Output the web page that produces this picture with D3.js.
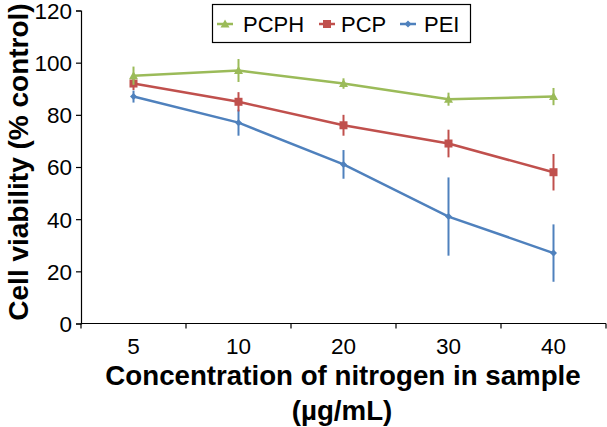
<!DOCTYPE html>
<html><head><meta charset="utf-8">
<script src="https://cdn.jsdelivr.net/npm/d3@7"></script>
<style>body{margin:0;background:#fff}svg{display:block;font-family:"Liberation Sans",Arial,sans-serif}</style>
</head><body><svg id="c" width="607" height="427"></svg>
<script>
const categories = ["5","10","20","30","40"];
const yTicks = [0,20,40,60,80,100,120];
const seriesNames = ["PCPH","PCP","PEI"];
const pcphValues = [95,97,92,86,87];
const pcphErrors = [3.5,4.4,2,2.5,3.3];
const pcpValues = [92,85,76,69,58];
const pcpErrors = [2.5,3.7,4,5.3,7];
const peiValues = [87,77,61,41,27];
const peiErrors = [2.3,5,5.5,15,11];
const colors = ["#9BBB59","#C0504D","#4F81BD"];
const markers = ["triangle","square","diamond"];

const series = [
  {name:seriesNames[0], values:pcphValues, errors:pcphErrors, color:colors[0], marker:markers[0]},
  {name:seriesNames[1], values:pcpValues, errors:pcpErrors, color:colors[1], marker:markers[1]},
  {name:seriesNames[2], values:peiValues, errors:peiErrors, color:colors[2], marker:markers[2]}
];

const svg = d3.select("#c");
const x = d3.scaleBand().domain(categories).range([81,606]).padding(0);
const y = d3.scaleLinear().domain([0,120]).range([323.5,10.5]);

// Y axis
const yAxis = svg.append("g").attr("transform","translate(81,0)")
  .call(d3.axisLeft(y).tickValues(yTicks).tickSize(5).tickPadding(4));
yAxis.select(".domain").attr("stroke","#000").attr("stroke-width",1.2);
yAxis.selectAll(".tick line").attr("stroke","#000").attr("stroke-width",1.2);
yAxis.selectAll(".tick text").attr("font-size",22.5).attr("fill","#000")
  .attr("font-family","Liberation Sans, Arial, sans-serif").attr("dy","0.35em");

// X axis line and boundary ticks
const xg = svg.append("g");
xg.append("line").attr("x1",x.range()[0]).attr("x2",x.range()[1]).attr("y1",y(0)).attr("y2",y(0))
  .attr("stroke","#000").attr("stroke-width",1.2);
const bounds = categories.map(c=>x(c)).concat([x(categories[categories.length-1])+x.bandwidth()]);
xg.selectAll("line.tk").data(bounds).enter().append("line").attr("class","tk")
  .attr("x1",d=>d).attr("x2",d=>d).attr("y1",y(0)).attr("y2",y(0)+5)
  .attr("stroke","#000").attr("stroke-width",1.2);
xg.selectAll("text").data(categories).enter().append("text")
  .attr("x",d=>x(d)+x.bandwidth()/2).attr("y",354).attr("text-anchor","middle")
  .attr("font-size",22.5).text(d=>d);

// Titles
svg.append("text").attr("transform","translate(28,162) rotate(-90)")
  .attr("text-anchor","middle").attr("font-size",28).attr("font-weight","bold")
  .text("Cell viability (% control)");
svg.append("text").attr("x",343).attr("y",385).attr("text-anchor","middle")
  .attr("font-size",27.7).attr("font-weight","bold").text("Concentration of nitrogen in sample");
svg.append("text").attr("x",342).attr("y",420).attr("text-anchor","middle")
  .attr("font-size",27.7).attr("font-weight","bold").text("(µg/mL)");

function drawMarker(g, type, cx, cy, color){
  if(type==="square"){
    g.append("rect").attr("x",cx-4).attr("y",cy-4).attr("width",8).attr("height",8).attr("fill",color);
  } else if(type==="diamond"){
    g.append("path").attr("d",`M${cx},${cy-3.5}L${cx+3.5},${cy}L${cx},${cy+3.5}L${cx-3.5},${cy}Z`).attr("fill",color);
  } else {
    g.append("path").attr("d",`M${cx},${cy-4.5}L${cx+4.5},${cy+3.5}L${cx-4.5},${cy+3.5}Z`).attr("fill",color);
  }
}

const cx = d => x(d)+x.bandwidth()/2;
const line = d3.line().x((d,i)=>cx(categories[i])).y(d=>y(d));

series.slice().reverse().forEach(s=>{
  const g = svg.append("g");
  g.append("path").datum(s.values).attr("d",line).attr("fill","none")
    .attr("stroke",s.color).attr("stroke-width",2.5);
  s.values.forEach((v,i)=>{
    g.append("line").attr("x1",cx(categories[i])).attr("x2",cx(categories[i]))
      .attr("y1",y(v+s.errors[i])).attr("y2",y(v-s.errors[i]))
      .attr("stroke",s.color).attr("stroke-width",2);
    drawMarker(g,s.marker,cx(categories[i]),y(v),s.color);
  });
});

// Legend
const lg = svg.append("g");
lg.append("rect").attr("x",212.5).attr("y",4.5).attr("width",258).attr("height",38)
  .attr("fill","#fff").attr("stroke","#000").attr("stroke-width",1.2);
const legX = [225,327,408];
const legTextX = [243,341,424];
series.forEach((s,i)=>{
  lg.append("line").attr("x1",legX[i]-8).attr("x2",legX[i]+8).attr("y1",24).attr("y2",24)
    .attr("stroke",s.color).attr("stroke-width",2.5);
  drawMarker(lg,s.marker,legX[i],24,s.color);
  lg.append("text").attr("x",legTextX[i]).attr("y",32).attr("font-size",22).text(s.name);
});
</script></body></html>
